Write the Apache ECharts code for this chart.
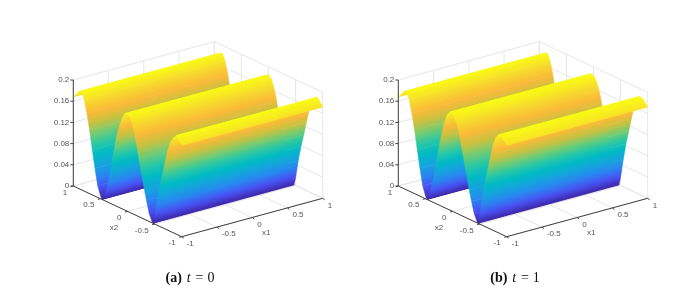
<!DOCTYPE html><html><head><meta charset="utf-8"><style>html,body{margin:0;padding:0;background:#fff}#c{width:694px;height:290px}</style>
<script src="https://cdn.jsdelivr.net/npm/echarts@6/dist/echarts.min.js"></script></head><body><div id="c"></div><script>
const x1Ticks=[-1,-0.5,0,0.5,1];
const x2Ticks=[-1,-0.5,0,0.5,1];
const zTicks=[0,0.04,0.08,0.12,0.16,0.2];
const x2Grid=[1,0.95,0.9,0.85,0.8,0.75,0.7,0.65,0.6,0.55,0.5,0.47,0.45,0.4,0.35,0.3,0.25,0.2,0.15,0.1,0.05,0,-0.05,-0.1,-0.15,-0.2,-0.25,-0.3,-0.35,-0.4,-0.45,-0.47,-0.5,-0.55,-0.6,-0.65,-0.7,-0.75,-0.8,-0.85,-0.9,-0.95,-1];
const zA=[0.168,0.175,0.183,0.185,0.173,0.149,0.12,0.085,0.052,0.022,0.006,0,0.002,0.016,0.042,0.072,0.103,0.131,0.153,0.171,0.182,0.185,0.18,0.166,0.143,0.116,0.087,0.062,0.037,0.015,0.003,0,0.015,0.05,0.079,0.103,0.129,0.154,0.17,0.179,0.186,0.18,0.172];
const zB=[0.168,0.175,0.183,0.185,0.173,0.149,0.12,0.085,0.052,0.022,0.006,0,0.002,0.02,0.047,0.077,0.108,0.137,0.16,0.177,0.185,0.184,0.177,0.162,0.139,0.113,0.085,0.06,0.036,0.015,0.003,0,0.016,0.052,0.084,0.11,0.136,0.162,0.177,0.185,0.184,0.179,0.172];
const x1Ends=[-1,1];
const parula=[[62,38,168],[72,82,244],[40,135,240],[20,165,220],[0,186,196],[40,200,165],[115,204,115],[200,194,64],[250,186,56],[247,217,46],[249,251,20]];
function cm(t){t=Math.max(0,Math.min(1,t))*(parula.length-1);const i=Math.min(Math.floor(t),parula.length-2),f=t-i;const a=parula[i],b=parula[i+1];return 'rgb('+[0,1,2].map(k=>Math.round(a[k]+(b[k]-a[k])*f)).join(',')+')';}
const zTop=0.186;
const panels=[{o:[73.3,186],z:zA},{o:[398.3,186],z:zB}];
const ex1=[141,-38.4], ex2=[108.4,50.7], zPx=106;
function P(p,a,b,c){const u=(a+1)/2,w=(1-b)/2;return [p.o[0]+u*ex1[0]+w*ex2[0],p.o[1]+u*ex1[1]+w*ex2[1]-c/0.2*zPx];}
const series=[];
panels.forEach((p)=>{
 const wall=[];
 x1Ticks.forEach(v=>{wall.push([[v,-1,0],[v,1,0]]);wall.push([[v,1,0],[v,1,0.2]]);});
 x2Ticks.forEach(v=>{wall.push([[-1,v,0],[1,v,0]]);wall.push([[1,v,0],[1,v,0.2]]);});
 zTicks.forEach(v=>{wall.push([[-1,1,v],[1,1,v]]);wall.push([[1,1,v],[1,-1,v]]);});
 series.push({type:'custom',coordinateSystem:'cartesian2d',silent:true,data:wall.map((_,i)=>[i]),renderItem:(_,api)=>{const s=wall[api.value(0)];const a=api.coord(P(p,...s[0])),b=api.coord(P(p,...s[1]));return {type:'line',shape:{x1:a[0],y1:a[1],x2:b[0],y2:b[1]},style:{stroke:'#e6e6e6',lineWidth:1}};}});
 const strips=p.z.slice(0,-1).map((_,i)=>i);
 series.push({type:'custom',coordinateSystem:'cartesian2d',silent:true,data:strips.map(i=>[i]),z:3,renderItem:(_,api)=>{const i=api.value(0);
  const a=x2Grid[i],b=x2Grid[i+1],za=p.z[i],zb=p.z[i+1];
  const pts=[P(p,x1Ends[0],a,za),P(p,x1Ends[1],a,za),P(p,x1Ends[1],b,zb),P(p,x1Ends[0],b,zb)].map(q=>api.coord(q));
  const stops=[];for(let k=0;k<=6;k++){stops.push({offset:k/6,color:cm((za+(zb-za)*k/6)/zTop)});}
  const d=[pts[1][0]-pts[0][0],pts[1][1]-pts[0][1]];const L=Math.hypot(d[0],d[1]);const n=[-d[1]/L,d[0]/L];
  const h=(pts[3][0]-pts[0][0])*n[0]+(pts[3][1]-pts[0][1])*n[1];
  const g=new echarts.graphic.LinearGradient(pts[0][0],pts[0][1],pts[0][0]+n[0]*h,pts[0][1]+n[1]*h,stops,true);
  return {type:'polygon',shape:{points:pts},style:{fill:g,stroke:g,lineWidth:0.5}};}});
 const ax=[[[-1,1,0],[-1,1,0.2]],[[-1,1,0],[-1,-1,0]],[[-1,-1,0],[1,-1,0]]];
 const tk=[];
 zTicks.forEach(v=>tk.push({a:[-1,1,v],dx:-3,dy:0,txt:String(v),lx:-4,ly:0,al:'right'}));
 x2Ticks.forEach(v=>tk.push({a:[-1,v,0],dx:-2.5,dy:0.7,txt:String(v),lx:-6,ly:6.5,al:'right'}));
 x1Ticks.forEach(v=>tk.push({a:[v,-1,0],dx:2,dy:1.5,txt:String(v),lx:5,ly:7,al:'left'}));
 series.push({type:'custom',coordinateSystem:'cartesian2d',silent:true,z:4,data:ax.map((_,i)=>[i]),renderItem:(_,api)=>{const s=ax[api.value(0)];const a=api.coord(P(p,...s[0])),b=api.coord(P(p,...s[1]));return {type:'line',shape:{x1:a[0],y1:a[1],x2:b[0],y2:b[1]},style:{stroke:'#404040',lineWidth:1}};}});
 series.push({type:'custom',coordinateSystem:'cartesian2d',silent:true,z:4,data:tk.map((_,i)=>[i]),renderItem:(_,api)=>{const t=tk[api.value(0)];const a=api.coord(P(p,...t.a));return {type:'group',children:[{type:'line',shape:{x1:a[0],y1:a[1],x2:a[0]+t.dx,y2:a[1]+t.dy},style:{stroke:'#404040',lineWidth:1}},{type:'text',style:{x:a[0]+t.lx,y:a[1]+t.ly,text:t.txt,fill:'#555',font:'8px "Liberation Sans"',align:t.al,verticalAlign:'middle'}}]};}});
 const axn=[{a:[-1,0,0],txt:'x2',dx:-13.5,dy:16},{a:[0,-1,0],txt:'x1',dx:14,dy:15}];
 series.push({type:'custom',coordinateSystem:'cartesian2d',silent:true,z:4,data:axn.map((_,i)=>[i]),renderItem:(_,api)=>{const t=axn[api.value(0)];const a=api.coord(P(p,...t.a));return {type:'text',style:{x:a[0]+t.dx,y:a[1]+t.dy,text:t.txt,fill:'#555',font:'8px "Liberation Sans"',align:'center',verticalAlign:'middle'}};}});
});
const chart=echarts.init(document.getElementById('c'),null,{renderer:'canvas'});
const base={fontFamily:'Liberation Serif',fontSize:14,color:'#111',fontWeight:'normal'};
const rich={b:{...base,fontWeight:'bold'},i:{...base,fontStyle:'italic',padding:[0,1,0,1]},n:{...base},e:{...base,padding:[0,0,0,0]}};
chart.setOption({animation:false,backgroundColor:'#fff',
 title:[{text:'{b|(a)} {i|t} {e|=} {n|0}',left:185,top:266,textAlign:'center',textStyle:{rich,fontWeight:'normal',fontSize:14}},{text:'{b|(b)} {i|t} {e|=} {n|1}',left:510,top:266,textAlign:'center',textStyle:{rich,fontWeight:'normal',fontSize:14}}],
 grid:{left:0,right:0,top:0,bottom:0},
 xAxis:{type:'value',min:0,max:694,show:false},
 yAxis:{type:'value',min:0,max:290,inverse:true,show:false},
 series});
</script></body></html>
